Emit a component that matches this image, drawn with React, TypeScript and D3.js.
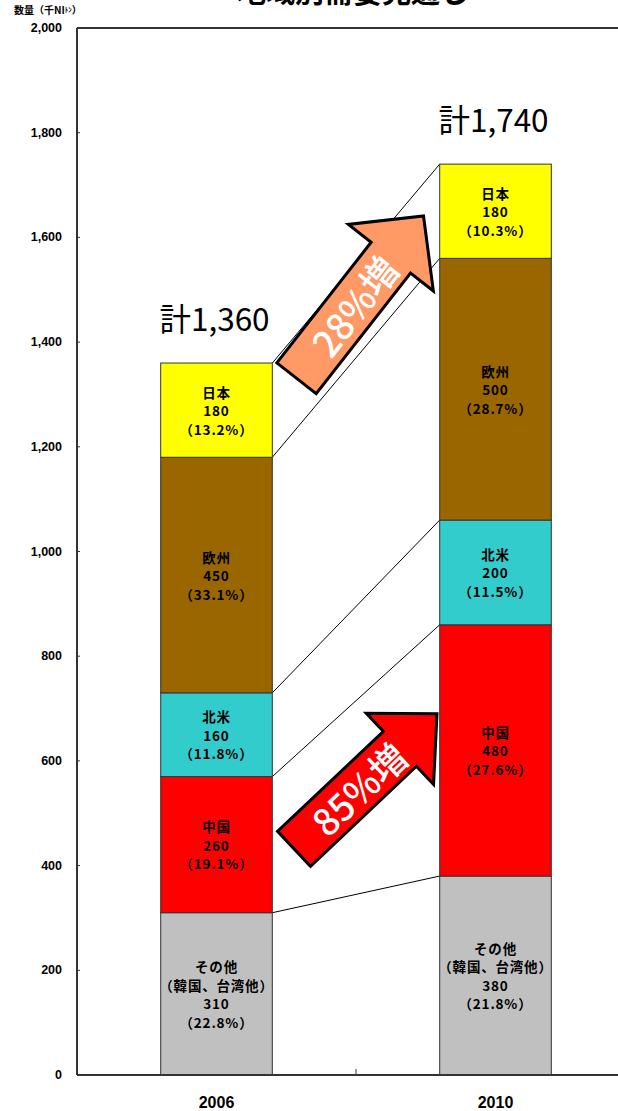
import React from "react";
import * as d3 from "d3";

const years = ["2006", "2010"];
const regionNames = ["その他", "中国", "北米", "欧州", "日本"];
const regionSub = ["（韓国、台湾他）", "", "", "", ""];
const values2006 = [310, 260, 160, 450, 180];
const values2010 = [380, 480, 200, 500, 180];
const pct2006 = ["22.8%", "19.1%", "11.8%", "33.1%", "13.2%"];
const pct2010 = ["21.8%", "27.6%", "11.5%", "28.7%", "10.3%"];
const totals = [1360, 1740];
const regionColors = ["#C0C0C0", "#FF0000", "#33CCCC", "#996600", "#FFFF00"];
const yTicks = [0, 200, 400, 600, 800, 1000, 1200, 1400, 1600, 1800, 2000];
const title = "地域別需要見通し";
const growthLabels = ["85%増", "28%増"];
// arrows: [tail value, tip value]
const arrowValues = [
  [432, 690],
  [1331, 1641],
];
const arrowColors = ["#FF0000", "#FF9966"];

const W = 618;
const H = 1111;
const plotLeft = 77;
const plotRight = 635;
const plotTop = 28;
const plotBottom = 1075;
const JP = "'Noto Sans CJK JP', 'Noto Sans', sans-serif";
const AR = "'Liberation Sans', Arial, sans-serif";

export default function App() {
  const y = d3.scaleLinear().domain([0, 2000]).range([plotBottom, plotTop]);
  const x = d3.scalePoint<string>().domain(years).range([plotLeft, plotRight]).padding(0.5);
  const step = x.step();
  const barW = step * 0.4;
  const allValues = [values2006, values2010];
  const allPct = [pct2006, pct2010];

  const stacks = allValues.map((vals) => {
    let acc = 0;
    return vals.map((v) => {
      const s = { y0: acc, y1: acc + v, v };
      acc += v;
      return s;
    });
  });

  const cx0 = x("2006")!;
  const cx1 = x("2010")!;
  const arrowSpecs = [
    { tail: [cx0 + 77.5, y(arrowValues[0][0])], tip: [cx1 - 58.5, y(arrowValues[0][1])], sw: 48, hw: 98, hl: 51 },
    { tail: [cx0 + 80, y(arrowValues[1][0])], tip: [cx1 - 72, y(arrowValues[1][1])], sw: 50, hw: 108, hl: 53 },
  ];

  const lineH = 18.5;

  return (
    <svg width={W} height={H} style={{ position: "absolute", left: 0, top: 0, background: "#fff" }}>
      {/* title (cropped at top) */}
      <text x={353} y={3} textAnchor="middle" fontFamily={JP} fontWeight="bold" fontSize={29} fill="#000">
        {title}
      </text>
      {/* axis unit */}
      <text x={14} y={14} fontFamily={JP} fontWeight="bold" fontSize={10} fill="#000">
        数量（千NI<tspan fontSize={7} dy={-2}>ﾄﾝ</tspan><tspan dy={2}>）</tspan>
      </text>

      {/* connector lines */}
      {stacks[0].map((s, i) => (
        <line
          key={"c" + i}
          x1={cx0 + barW / 2}
          y1={y(s.y1)}
          x2={cx1 - barW / 2}
          y2={y(stacks[1][i].y1)}
          stroke="#000"
          strokeWidth={1}
        />
      ))}

      {/* bars */}
      {stacks.map((st, bi) => {
        const cx = x(years[bi])!;
        return (
          <g key={"b" + bi}>
            {st.map((s, i) => (
              <rect
                key={i}
                x={cx - barW / 2}
                y={y(s.y1)}
                width={barW}
                height={y(s.y0) - y(s.y1)}
                fill={regionColors[i]}
                stroke="#333"
                strokeWidth={1}
              />
            ))}
            {st.map((s, i) => {
              const lines = [regionNames[i]];
              if (regionSub[i]) lines.push(regionSub[i]);
              lines.push(String(s.v));
              lines.push("（" + allPct[bi][i] + "）");
              const cy = y((s.y0 + s.y1) / 2);
              const startY = cy - ((lines.length - 1) * lineH) / 2;
              return (
                <text
                  key={"t" + i}
                  textAnchor="middle"
                  fontFamily={JP}
                  fontWeight="bold"
                  fontSize={13.5}
                  letterSpacing={0.8}
                  fill="#000"
                >
                  {lines.map((l, li) => (
                    <tspan key={li} x={cx} y={startY + li * lineH} dominantBaseline="central">
                      {l}
                    </tspan>
                  ))}
                </text>
              );
            })}
            <text
              x={cx - 2}
              y={y(totals[bi]) - 32}
              textAnchor="middle"
              fontFamily={JP}
              fontSize={31.5}
              fill="#000"
            >
              {"計" + d3.format(",")(totals[bi])}
            </text>
          </g>
        );
      })}

      {/* axes */}
      <line x1={plotLeft} y1={plotTop} x2={W} y2={plotTop} stroke="#333" strokeWidth={2} />
      <line x1={plotLeft} y1={plotTop} x2={plotLeft} y2={plotBottom} stroke="#333" strokeWidth={2} />
      <line x1={plotLeft} y1={plotBottom} x2={W} y2={plotBottom} stroke="#333" strokeWidth={2} />
      <line x1={cx0 + step / 2} y1={plotBottom} x2={cx0 + step / 2} y2={plotBottom - 6} stroke="#333" strokeWidth={1} />
      {yTicks.map((t) => (
        <g key={"yt" + t}>
          <line x1={plotLeft} x2={plotLeft + 3} y1={y(t)} y2={y(t)} stroke="#333" strokeWidth={1} />
          <text
            x={62}
            y={y(t)}
            textAnchor="end"
            dominantBaseline="central"
            fontFamily={AR}
            fontWeight="bold"
            fontSize={12.5}
            fill="#000"
          >
            {d3.format(",")(t)}
          </text>
        </g>
      ))}
      {years.map((yr) => (
        <text
          key={"x" + yr}
          x={x(yr)!}
          y={1102}
          textAnchor="middle"
          dominantBaseline="central"
          fontFamily={AR}
          fontWeight="bold"
          fontSize={16}
          fill="#000"
        >
          {yr}
        </text>
      ))}

      {/* growth arrows */}
      {arrowSpecs.map((a, i) => {
        const dx = a.tip[0] - a.tail[0];
        const dy = a.tip[1] - a.tail[1];
        const L = Math.sqrt(dx * dx + dy * dy);
        const ang = (Math.atan2(dy, dx) * 180) / Math.PI;
        const pts: [number, number][] = [
          [0, -a.sw / 2],
          [L - a.hl, -a.sw / 2],
          [L - a.hl, -a.hw / 2],
          [L, 0],
          [L - a.hl, a.hw / 2],
          [L - a.hl, a.sw / 2],
          [0, a.sw / 2],
        ];
        return (
          <g key={"a" + i} transform={`translate(${a.tail[0]},${a.tail[1]}) rotate(${ang})`}>
            <polygon
              points={pts.map((p) => p.join(",")).join(" ")}
              fill={arrowColors[i]}
              stroke="#000"
              strokeWidth={3}
              strokeLinejoin="miter"
            />
            <text
              x={L * 0.45}
              y={0}
              textAnchor="middle"
              dominantBaseline="central"
              fontFamily={JP}
              fontWeight={500}
              fontSize={37}
              fill="#fff"
            >
              {growthLabels[i]}
            </text>
          </g>
        );
      })}
    </svg>
  );
}
